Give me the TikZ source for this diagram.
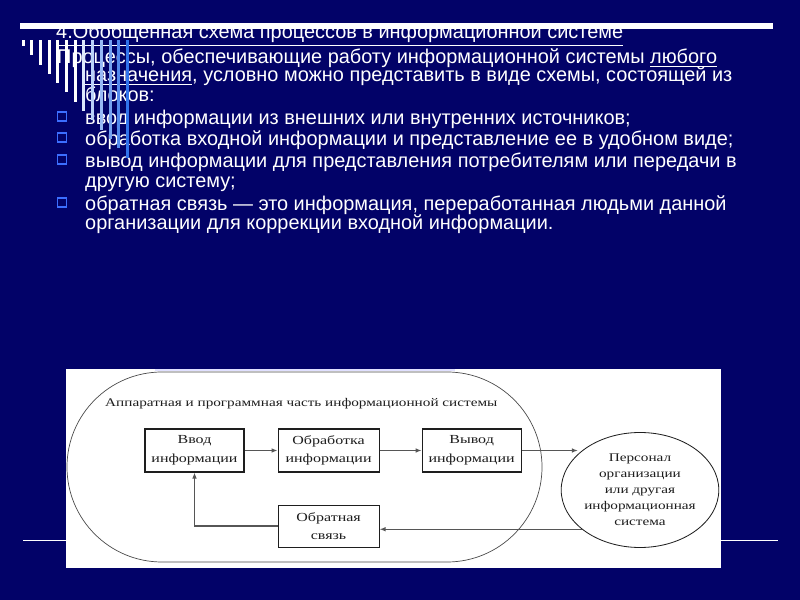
\documentclass[tikz,border=0pt]{standalone}
\usepackage{fontspec}
\setmainfont{Liberation Sans}
\newfontfamily\scanfont[FakeStretch=1.3]{Liberation Serif}
\usetikzlibrary{shapes.geometric,arrows.meta,positioning}

\definecolor{slidebg}{RGB}{2,2,104}
\definecolor{bulletblue}{RGB}{60,110,255}
\definecolor{barblue}{RGB}{40,110,235}
\definecolor{inkgray}{RGB}{30,30,30}

\begin{document}
\begin{tikzpicture}[
    x=0.03cm, y=-0.03cm,
    slidetext/.style={anchor=base west, inner sep=0pt, text=white,
                      font=\fontsize{17}{20}\selectfont},
    bulletbox/.style={draw=bulletblue, line width=1.2pt, minimum size=0.28cm, inner sep=0pt},
    box/.style={rectangle, draw=inkgray, line width=0.9pt, minimum width=2.97cm,
                minimum height=1.29cm, align=center, inner sep=1pt, text=inkgray,
                font=\scanfont\fontsize{10.5}{16}\selectfont},
    arrow/.style={-{Latex[length=1.8mm,width=1.4mm]}, line width=1.3pt, draw=inkgray!75}
  ]
    % slide background and rules
    \fill[slidebg] (0,0) rectangle (800,600);
    \fill[white] (20,23.5) rectangle (773,29.5);
    \draw[white, line width=0.8pt] (23,540) -- (778,540);

    % slide text
    \node[slidetext] (t1) at (56,39) {\underline{4.Обобщенная схема процессов в информационной системе}};
    \node[slidetext] (p1) at (57,64) {Процессы, обеспечивающие работу информационной системы \underline{любого}};
    \node[slidetext] (p2) at (85,82) {\underline{назначения}, условно можно представить в виде схемы, состоящей из};
    \node[slidetext] (p3) at (85,102) {блоков:};
    \node[slidetext] (b1) at (85,125) {ввод информации из внешних или внутренних источников;};
    \node[slidetext] (b2) at (85,146) {обработка входной информации и представление ее в удобном виде;};
    \node[slidetext] (b3) at (85,168) {вывод информации для представления потребителям или передачи в};
    \node[slidetext] (b3b) at (85,188) {другую систему;};
    \node[slidetext] (b4) at (85,211) {обратная связь — это информация, переработанная людьми данной};
    \node[slidetext] (b4b) at (85,230) {организации для коррекции входной информации.};

    \foreach \y in {125,146,168,211}
      \node[bulletbox] at (62,\y-8.5) {};

    % comb of bars
    \foreach \i in {0,...,12} {
      \pgfmathtruncatemacro\mix{max(0,min(100,(\i-6)*16))}
      \fill[barblue!\mix!white] ({21.5+8.7*\i},40) rectangle ({24.5+8.7*\i},{46+9.3*\i});
    }

    % scanned figure
    \fill[white] (66,369) rectangle (721,568);
    \fill[blue!12!white] (155,369) rectangle (455,371);

    \node[draw=inkgray!80, line width=0.6pt, rounded corners=2.85cm, minimum width=14.25cm,
          minimum height=5.7cm, inner sep=0pt] (hw) at (304.5,467) {};
    \node[anchor=base west, inner sep=0pt, text=inkgray,
          font=\scanfont\fontsize{10}{12}\selectfont] (hwlabel) at (105,407)
          {Аппаратная и программная часть информационной системы};

    \node[box] (inp) at (194.5,450.5) {Ввод\\информации};
    \node[box, minimum width=3.03cm, right=0.99cm of inp] (proc) {Обработка\\информации};
    \node[box, right=1.26cm of proc] (outp) {Вывод\\информации};
    \node[box, minimum width=3.03cm, minimum height=1.26cm, below=0.96cm of proc] (fb) {Обратная\\связь};

    \node[ellipse, draw=inkgray, line width=0.7pt, minimum width=4.71cm, minimum height=3.45cm,
          inner sep=0pt, align=center, text=inkgray,
          font=\scanfont\fontsize{10}{13.6}\selectfont] (pers) at (640,490)
          {Персонал\\организации\\или другая\\информационная\\система};

    \foreach \a/\b in {inp/proc, proc/outp}
      \draw[arrow] (\a) -- (\b);
    \draw[arrow] (outp.east) -- (outp.east -| pers.150);
    \draw[arrow] (pers.214) -- (pers.214 -| fb.east);
    \draw[arrow] (fb.west) -| (inp.south);
\end{tikzpicture}
\end{document}
